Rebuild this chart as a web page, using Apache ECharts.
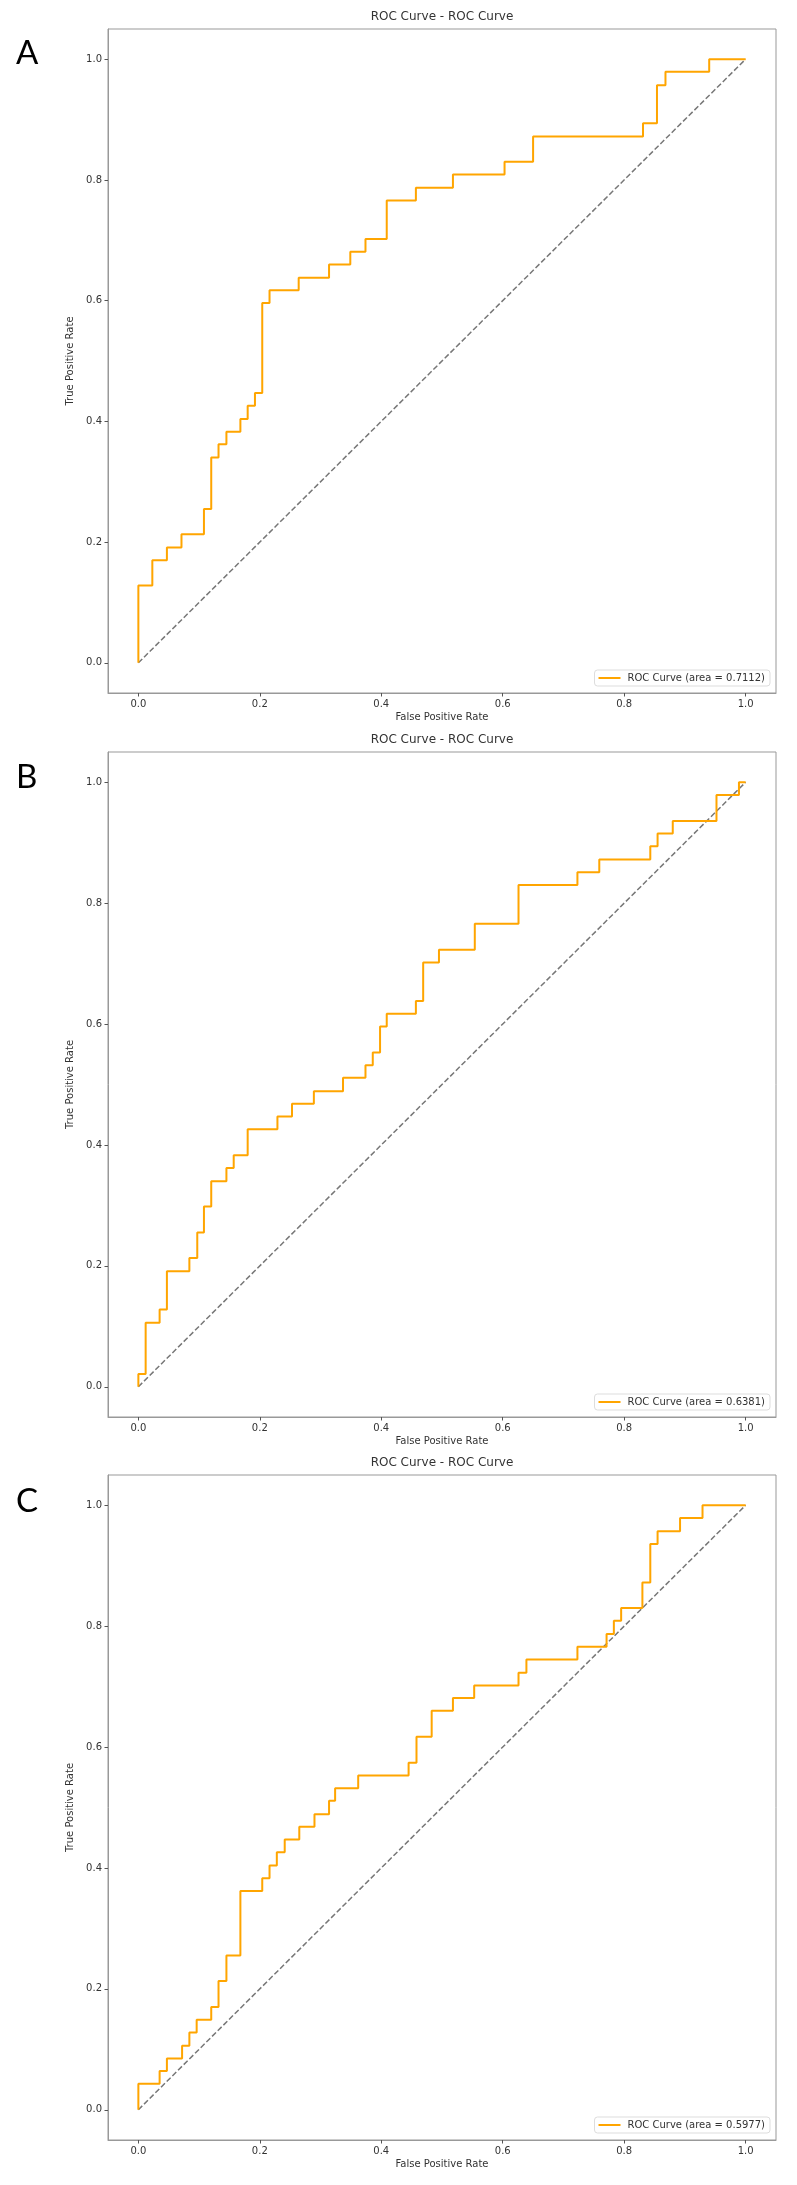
<!DOCTYPE html>
<html>
<head>
<meta charset="utf-8">
<title>ROC Curve - ROC Curve</title>
<script src="https://cdn.jsdelivr.net/npm/echarts@6.0.0/dist/echarts.min.js"></script>
<style>
  html, body { margin: 0; padding: 0; background: #fff; }
  #chart { width: 797px; height: 2185px; }
</style>
</head>
<body>
<div id="chart"></div>
<script>
// tick labels shared by both axes of every panel
const tickVals = [0, 0.2, 0.4, 0.6, 0.8, 1.0];
const panelLetters = ['A', 'B', 'C'];
const aucVals = ['0.7112', '0.6381', '0.5977'];

// ROC points (fpr, tpr), stepping at each fpr
const fprA = [0, 0, 0.023, 0.047, 0.071, 0.108, 0.120, 0.132, 0.145, 0.168, 0.180, 0.192, 0.204, 0.216, 0.264, 0.314, 0.349, 0.374, 0.409, 0.457, 0.518, 0.603, 0.650, 0.831, 0.854, 0.868, 0.940, 1.0];
const tprA = [0, 0.128, 0.170, 0.191, 0.213, 0.255, 0.340, 0.362, 0.383, 0.404, 0.426, 0.447, 0.596, 0.617, 0.638, 0.660, 0.681, 0.702, 0.766, 0.787, 0.809, 0.830, 0.872, 0.894, 0.957, 0.979, 1.0, 1.0];

const fprB = [0, 0, 0.012, 0.035, 0.047, 0.084, 0.097, 0.108, 0.120, 0.145, 0.157, 0.180, 0.229, 0.253, 0.289, 0.337, 0.374, 0.386, 0.398, 0.409, 0.457, 0.469, 0.495, 0.554, 0.626, 0.723, 0.759, 0.843, 0.855, 0.880, 0.952, 0.989, 1.0];
const tprB = [0, 0.021, 0.106, 0.128, 0.191, 0.213, 0.255, 0.298, 0.340, 0.362, 0.383, 0.426, 0.447, 0.468, 0.489, 0.511, 0.532, 0.553, 0.596, 0.617, 0.638, 0.702, 0.723, 0.766, 0.830, 0.851, 0.872, 0.894, 0.915, 0.936, 0.979, 1.0, 1.0];

const fprC = [0, 0, 0.035, 0.047, 0.072, 0.084, 0.096, 0.120, 0.132, 0.145, 0.168, 0.204, 0.216, 0.228, 0.241, 0.265, 0.290, 0.314, 0.324, 0.362, 0.445, 0.458, 0.483, 0.518, 0.553, 0.626, 0.639, 0.723, 0.771, 0.783, 0.795, 0.830, 0.843, 0.855, 0.892, 0.929, 1.0];
const tprC = [0, 0.043, 0.064, 0.085, 0.106, 0.128, 0.149, 0.170, 0.213, 0.255, 0.362, 0.383, 0.404, 0.426, 0.447, 0.468, 0.489, 0.511, 0.532, 0.553, 0.574, 0.617, 0.660, 0.681, 0.702, 0.723, 0.745, 0.766, 0.787, 0.809, 0.830, 0.872, 0.936, 0.957, 0.979, 1.0, 1.0];

// chance line
const chanceX = [0, 1];
const chanceY = [0, 1];

const curves = [[fprA, tprA], [fprB, tprB], [fprC, tprC]];

// layout of the three stacked panels (px)
const layout = [
  { top: 29, height: 664, titleTop: 11, letterY: 53 },
  { top: 752, height: 665, titleTop: 734, letterY: 777 },
  { top: 1475, height: 665, titleTop: 1457, letterY: 1501 }
];

const FONT = 'DejaVu Sans';
const ORANGE = '#ffa500';
const SPINE = '#999';

const zip = (xs, ys) => xs.map((x, i) => [x, ys[i]]);

const axisCommon = {
  type: 'value',
  min: -0.05,
  max: 1.05,
  splitLine: { show: false },
  axisLine: { show: true, onZero: false, lineStyle: { color: SPINE, width: 1 } },
  axisTick: { show: true, length: 3.5, customValues: tickVals, lineStyle: { color: '#555' } },
  axisLabel: {
    customValues: tickVals,
    formatter: v => v.toFixed(1),
    fontFamily: FONT, fontSize: 10, color: '#333', margin: 6
  },
  nameLocation: 'middle',
  nameTextStyle: { fontFamily: FONT, fontSize: 10, color: '#333' }
};

const grid = [], xAxis = [], yAxis = [], series = [], title = [], legend = [], graphic = [];

layout.forEach((p, i) => {
  const name = `ROC Curve (area = ${aucVals[i]})`;
  grid.push({
    left: 108, right: 21, top: p.top, height: p.height,
    show: true, borderColor: SPINE, borderWidth: 1, backgroundColor: '#fff'
  });
  xAxis.push(Object.assign({}, axisCommon, { gridIndex: i, name: 'False Positive Rate', nameGap: 19 }));
  yAxis.push(Object.assign({}, axisCommon, { gridIndex: i, name: 'True Positive Rate', nameGap: 29 }));
  title.push({
    text: 'ROC Curve - ROC Curve',
    left: 442, top: p.titleTop, textAlign: 'center', padding: 0,
    textStyle: { fontFamily: FONT, fontSize: 12, fontWeight: 'normal', color: '#333' }
  });
  legend.push({
    data: [name],
    right: 27,
    top: p.top + p.height - 23,
    orient: 'vertical',
    padding: [3, 5, 3, 4],
    icon: 'rect',
    itemWidth: 22,
    itemHeight: 2,
    backgroundColor: '#fff',
    borderColor: '#ddd',
    borderWidth: 1,
    borderRadius: 3,
    selectedMode: false,
    textStyle: { fontFamily: FONT, fontSize: 10, color: '#333', padding: [0, 0, 0, 2] }
  });
  series.push({
    name: name,
    type: 'line',
    xAxisIndex: i, yAxisIndex: i,
    step: 'end',
    data: zip(curves[i][0], curves[i][1]),
    showSymbol: false,
    symbol: 'none',
    lineStyle: { color: ORANGE, width: 2 },
    itemStyle: { color: ORANGE },
    animation: false,
    z: 3
  });
  series.push({
    name: 'chance' + i,
    type: 'line',
    xAxisIndex: i, yAxisIndex: i,
    data: zip(chanceX, chanceY),
    showSymbol: false,
    symbol: 'none',
    lineStyle: { color: '#777', width: 1.5, type: [5.5, 2.5] },
    animation: false,
    z: 2
  });
  graphic.push({
    type: 'text',
    x: 16, y: p.letterY,
    style: {
      text: panelLetters[i],
      fontFamily: 'Lato', fontSize: 33, fill: '#000',
      verticalAlign: 'middle'
    }
  });
});

const myChart = echarts.init(document.getElementById('chart'));
myChart.setOption({
  backgroundColor: '#fff',
  animation: false,
  title, grid, xAxis, yAxis, legend, series, graphic
});
window.addEventListener('resize', function() { myChart.resize(); });
</script>
</body>
</html>
